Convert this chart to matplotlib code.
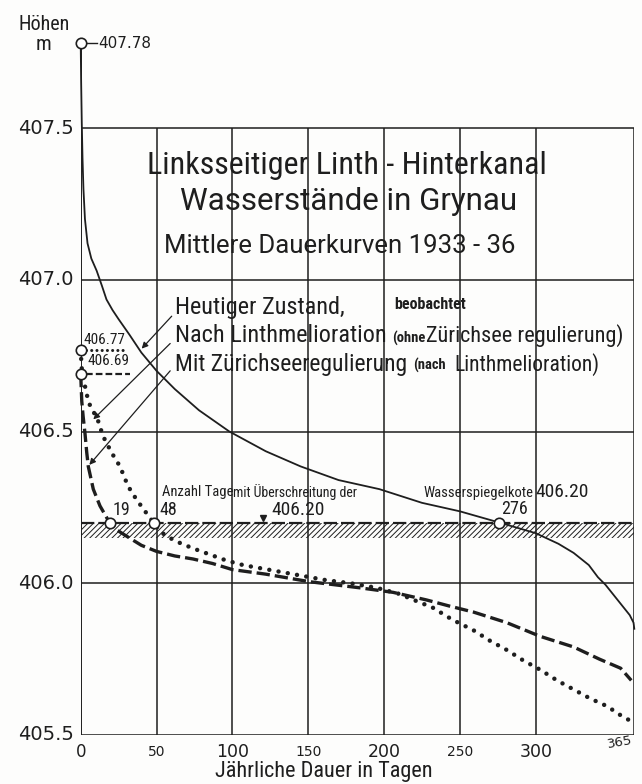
import matplotlib
matplotlib.use('Agg')
import matplotlib.pyplot as plt
from matplotlib import font_manager

# Schmale Schrift suchen (Normschrift-Ersatz)
installed = {f.name for f in font_manager.fontManager.ttflist}
schmal = next((n for n in ['Roboto Condensed', 'Liberation Sans Narrow', 'Open Sans Condensed']
               if n in installed), 'DejaVu Sans')
breit = 'Roboto' if 'Roboto' in installed else 'DejaVu Sans'
plt.rcParams['font.family'] = [schmal, 'DejaVu Sans']
plt.rcParams['hatch.linewidth'] = 0.7

tinte = '#1e1e1e'

# Heutiger Zustand, beobachtet
tage_heute = [0, 0.3, 0.7, 1.2, 1.8, 2.8, 4.5, 7, 10.5, 14, 17, 21, 25, 32, 40, 50, 62, 78,
              98, 122, 145, 170, 197, 225, 250, 276, 300, 315, 325, 335, 341, 346, 350, 354,
              358, 362, 364.5, 365]
hoehe_heute = [407.78, 407.65, 407.52, 407.40, 407.30, 407.20, 407.12, 407.07, 407.03, 406.98,
               406.935, 406.90, 406.87, 406.82, 406.76, 406.70, 406.64, 406.57, 406.50, 406.435,
               406.385, 406.34, 406.31, 406.265, 406.237, 406.20, 406.165, 406.13, 406.10,
               406.06, 406.02, 405.995, 405.97, 405.945, 405.92, 405.895, 405.87, 405.85]

# Nach Linthmelioration (ohne Zürichseeregulierung)
tage_linth = [0, 0.5, 1.2, 2.8, 5, 7.5, 10.5, 14.7, 20.4, 25.9, 31.2, 36.9, 43.5, 48, 52.3, 62,
              74, 85, 96, 107, 118, 129, 140, 151, 162, 178, 195, 210, 222, 232, 245, 259, 270,
              281, 292, 303, 314, 325, 336, 347, 356, 363]
hoehe_linth = [406.77, 406.72, 406.68, 406.65, 406.60, 406.57, 406.55, 406.485, 406.43, 406.385,
               406.32, 406.275, 406.23, 406.20, 406.17, 406.14, 406.115, 406.095, 406.075,
               406.06, 406.05, 406.04, 406.03, 406.02, 406.01, 406.0, 405.985, 405.965, 405.94,
               405.92, 405.88, 405.845, 405.81, 405.78, 405.745, 405.715, 405.68, 405.65,
               405.62, 405.595, 405.565, 405.545]

# Mit Zürichseeregulierung (nach Linthmelioration)
tage_zuerich = [0, 0.7, 1.6, 2.8, 4, 5, 8.3, 12.7, 19, 24, 30.3, 40, 50, 62, 74, 87, 100, 122,
                151, 184, 206, 228, 243, 259, 281, 303, 325, 342, 356, 363]
hoehe_zuerich = [406.69, 406.60, 406.55, 406.495, 406.43, 406.385, 406.31, 406.255, 406.20,
                 406.175, 406.155, 406.125, 406.105, 406.09, 406.08, 406.065, 406.045, 406.03,
                 406.005, 405.985, 405.97, 405.945, 405.925, 405.905, 405.87, 405.825, 405.79,
                 405.75, 405.72, 405.68]

# markierte Punkte (Kreise)
kreis_tage = [0, 0, 0, 19, 48, 276]
kreis_hoehe = [407.78, 406.77, 406.69, 406.20, 406.20, 406.20]

wsp = 406.20          # Wasserspiegelkote
band_unten = 406.15   # Unterkante Schraffur

x_ticks = [0, 50, 100, 150, 200, 250, 300]
x_groesse = [12, 10, 12.5, 10, 12.5, 10, 12.5]
y_ticks = [405.5, 406.0, 406.5, 407.0, 407.5]
y_labels = ['405.5', '406.0', '406.5', '407.0', '407.5']
x_max = 365

fig = plt.figure(figsize=(6.42, 7.84), dpi=100)
fig.patch.set_facecolor('#fdfdfc')
ax = fig.add_axes([0.1257, 0.0625, 0.8623, 0.9097])
ax.set_xlim(0, x_max)
ax.set_ylim(405.5, 407.85)
ax.set_axis_off()

# Rahmen und Netz
lw_netz = 1.1
ax.vlines(x_ticks[1:], 405.5, 407.5, color=tinte, lw=lw_netz)
ax.vlines(x_max, 405.5, 407.5, color=tinte, lw=lw_netz)
ax.hlines(y_ticks, 0, x_max, color=tinte, lw=lw_netz)
ax.vlines(0, 405.5, 407.78, color=tinte, lw=1.4)

# Schraffur unter der Wasserspiegelkote
ax.fill_between([0, x_max], [band_unten] * 2, [wsp] * 2, facecolor='none',
                edgecolor=tinte, hatch='//////', linewidth=0)
ax.plot([0, x_max], [wsp, wsp], color=tinte, lw=1.6, ls=(0, (6, 1.8)))
ax.plot([120], [wsp + 0.014], marker='v', color=tinte, ms=5)

# Dauerkurven
ax.plot(tage_heute, hoehe_heute, color=tinte, lw=1.3, clip_on=False)
ax.plot(tage_linth, hoehe_linth, color=tinte, lw=3.2, ls=(0, (0.01, 2.1)),
        dash_capstyle='round', clip_on=False)
ax.plot(tage_zuerich, hoehe_zuerich, color=tinte, lw=2.4, ls=(0, (4, 1.5)), clip_on=False)

# Hilfslinien an den Anfangswerten
ax.plot([1.5, 10.5], [407.78, 407.78], color=tinte, lw=1.0)
ax.plot([3.5, 29.5], [406.77, 406.77], color=tinte, lw=2.2, ls=(0, (0.01, 1.7)),
        dash_capstyle='round')
ax.plot([3.5, 32.5], [406.69, 406.69], color=tinte, lw=1.6, ls=(0, (3, 1.4)))

ax.plot(kreis_tage, kreis_hoehe, 'o', ms=7.5, mfc='white', mec=tinte, mew=1.2,
        clip_on=False, zorder=5)

# Achsbeschriftung
for t, g in zip(x_ticks, x_groesse):
    ax.text(t, 405.444, str(t), ha='center', va='center', fontsize=g, color=tinte,
            family='DejaVu Sans')
ax.text(355.7, 405.477, '365', ha='center', va='center', fontsize=9.5, rotation=10,
        color=tinte, family='DejaVu Sans')
for v, s in zip(y_ticks, y_labels):
    ax.text(-4.4, v, s, ha='right', va='center', fontsize=14, color=tinte,
            family='DejaVu Sans')
fig.text(324 / 642, 1 - 771 / 784, 'Jährliche Dauer in Tagen', ha='center', va='center',
         fontsize=16, color=tinte)
fig.text(44 / 642, 1 - 24 / 784, 'Höhen', ha='center', va='center', fontsize=14.5,
         color=tinte)
fig.text(44 / 642, 1 - 45 / 784, 'm', ha='center', va='center', fontsize=15, color=tinte)
ax.text(11.4, 407.78, '407.78', ha='left', va='center', fontsize=11, color=tinte,
        family='DejaVu Sans')
ax.text(15.4, 406.80, '406.77', ha='center', va='center', fontsize=11, color=tinte)
ax.text(18, 406.731, '406.69', ha='center', va='center', fontsize=11, color=tinte)

# Titel
ax.text(175.5, 407.375, 'Linksseitiger Linth - Hinterkanal', ha='center', va='center',
        fontsize=23, color=tinte)
ax.text(176.3, 407.259, 'Wasserstände in Grynau', ha='center', va='center',
        fontsize=22.5, color=tinte, family=breit)
ax.text(171, 407.11, 'Mittlere Dauerkurven 1933 - 36', ha='center', va='center',
        fontsize=18.5, color=tinte, family=breit)

# Legende mit Pfeilen
pfeil = dict(arrowstyle='-|>', color=tinte, lw=0.9, mutation_scale=9, shrinkA=0, shrinkB=0)
ax.text(62.2, 406.907, 'Heutiger Zustand,', ha='left', va='center', fontsize=17.5,
        color=tinte)
ax.text(206.6, 406.92, 'beobachtet', ha='left', va='center', fontsize=11.5,
        fontweight='bold', color=tinte)
ax.text(62.2, 406.815, 'Nach Linthmelioration', ha='left', va='center', fontsize=17.5,
        color=tinte)
ax.text(205.3, 406.808, '(ohne', ha='left', va='center', fontsize=10.5, fontweight='bold',
        color=tinte)
ax.text(227.5, 406.815, 'Zürichsee regulierung)', ha='left', va='center', fontsize=16,
        color=tinte)
ax.text(62.2, 406.722, 'Mit Zürichseeregulierung', ha='left', va='center', fontsize=17,
        color=tinte)
ax.text(219, 406.716, '(nach', ha='left', va='center', fontsize=10.5, fontweight='bold',
        color=tinte)
ax.text(246.5, 406.722, 'Linthmelioration)', ha='left', va='center', fontsize=15.5,
        color=tinte)

ax.annotate('', xy=(40.2, 406.773), xytext=(60, 406.88), arrowprops=pfeil)
ax.annotate('', xy=(8.3, 406.54), xytext=(59, 406.79), arrowprops=pfeil)
ax.annotate('', xy=(5.7, 406.39), xytext=(59, 406.70), arrowprops=pfeil)

# Beschriftung Überschreitungstage
ax.text(53.6, 406.302, 'Anzahl Tage', ha='left', va='center', fontsize=10.5, color=tinte)
ax.text(100.4, 406.30, 'mit Überschreitung der', ha='left', va='center', fontsize=10,
        color=tinte)
ax.text(143.3, 406.241, '406.20', ha='center', va='center', fontsize=14, color=tinte)
ax.text(225.7, 406.297, 'Wasserspiegelkote', ha='left', va='center', fontsize=10.5,
        color=tinte)
ax.text(299.5, 406.30, '406.20', ha='left', va='center', fontsize=14, color=tinte)
ax.text(26.6, 406.241, '19', ha='center', va='center', fontsize=13, color=tinte)
ax.text(51.6, 406.241, '48', ha='left', va='center', fontsize=13, color=tinte)
ax.text(285.7, 406.245, '276', ha='center', va='center', fontsize=13, color=tinte)

fig.savefig('out.png', dpi=100, facecolor=fig.get_facecolor())
